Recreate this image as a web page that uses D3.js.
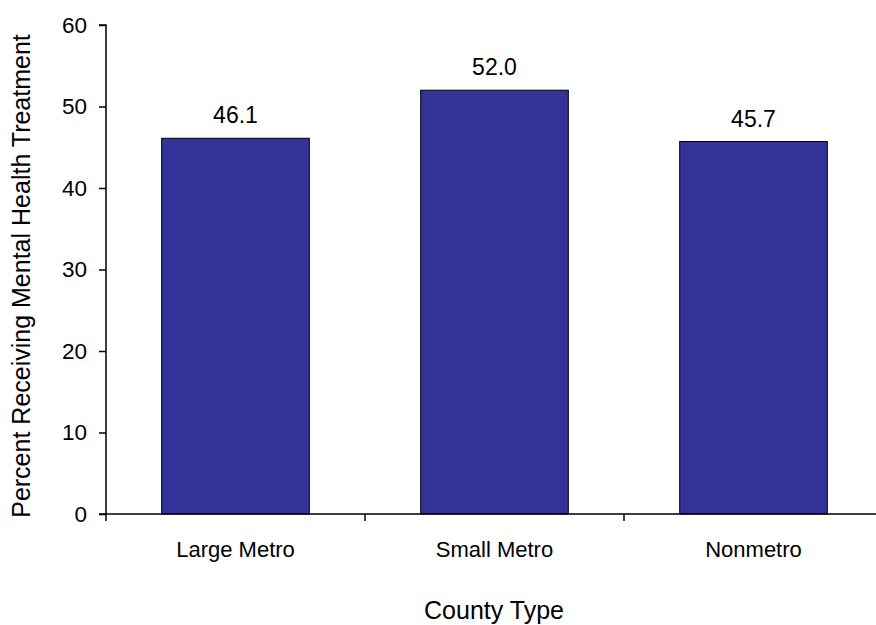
<!DOCTYPE html>
<html>
<head>
<meta charset="utf-8">
<script src="https://cdn.jsdelivr.net/npm/d3@7"></script>
<style>
  html, body { margin: 0; padding: 0; background: #fff; }
  svg { display: block; font-family: Arial, "Liberation Sans", sans-serif; }
</style>
</head>
<body>
<svg id="chart" width="876" height="625"></svg>
<script>
// County types and percent receiving mental health treatment
const categories = ["Large Metro", "Small Metro", "Nonmetro"];
const values = [46.1, 52.0, 45.7];
const yTicks = [0, 10, 20, 30, 40, 50, 60];

const svg = d3.select("#chart");
const plotLeft = 106, plotRight = 883, plotTop = 25, plotBottom = 514;

const x = d3.scaleBand().domain(categories).range([plotLeft, plotRight]).paddingInner(0.43).paddingOuter(0.215);
const y = d3.scaleLinear().domain([0, 60]).range([plotBottom, plotTop]);

// Bars
svg.append("g").selectAll("rect").data(values).join("rect")
  .attr("x", (d, i) => x(categories[i]))
  .attr("y", d => y(d))
  .attr("width", x.bandwidth())
  .attr("height", d => y(0) - y(d))
  .attr("fill", "#333399")
  .attr("stroke", "#000")
  .attr("stroke-width", 1);

// Value labels
svg.append("g").selectAll("text").data(values).join("text")
  .attr("x", (d, i) => x(categories[i]) + x.bandwidth() / 2)
  .attr("y", d => y(d) - 15)
  .attr("text-anchor", "middle")
  .attr("font-size", 23)
  .attr("fill", "#000")
  .text(d => d.toFixed(1));

// Y axis
const yAxis = svg.append("g").attr("transform", `translate(${plotLeft},0)`)
  .call(d3.axisLeft(y).tickValues(yTicks).tickSize(7).tickPadding(12).tickFormat(d3.format("d")));
yAxis.selectAll("text").attr("font-size", 22.5).attr("fill", "#000").attr("font-family", "Arial, 'Liberation Sans', sans-serif");
yAxis.select(".domain").attr("stroke", "#000").attr("stroke-width", 1.5).attr("d", `M-7,${plotTop}H0V${plotBottom}H-7`);
yAxis.selectAll(".tick line").attr("stroke", "#000").attr("stroke-width", 1.5);

// X axis with ticks at category boundaries
const xAxis = svg.append("g").attr("transform", `translate(0,${plotBottom})`);
xAxis.append("line").attr("x1", plotLeft).attr("x2", plotRight).attr("y1", 0).attr("y2", 0)
  .attr("stroke", "#000").attr("stroke-width", 1.5);
const boundaries = d3.range(categories.length + 1).map(i => plotLeft + i * (plotRight - plotLeft) / categories.length);
xAxis.selectAll("line.tk").data(boundaries).join("line").attr("class", "tk")
  .attr("x1", d => d).attr("x2", d => d).attr("y1", 0).attr("y2", 7)
  .attr("stroke", "#000").attr("stroke-width", 1.5);
xAxis.selectAll("text").data(categories).join("text")
  .attr("x", d => x(d) + x.bandwidth() / 2)
  .attr("y", 43)
  .attr("text-anchor", "middle")
  .attr("font-size", 22)
  .attr("fill", "#000")
  .text(d => d);

// Axis titles
svg.append("text")
  .attr("x", 494)
  .attr("y", 619)
  .attr("text-anchor", "middle")
  .attr("font-size", 25)
  .text("County Type");

svg.append("text")
  .attr("transform", "translate(30,276) rotate(-90)")
  .attr("text-anchor", "middle")
  .attr("font-size", 25)
  .text("Percent Receiving Mental Health Treatment");
</script>
</body>
</html>
